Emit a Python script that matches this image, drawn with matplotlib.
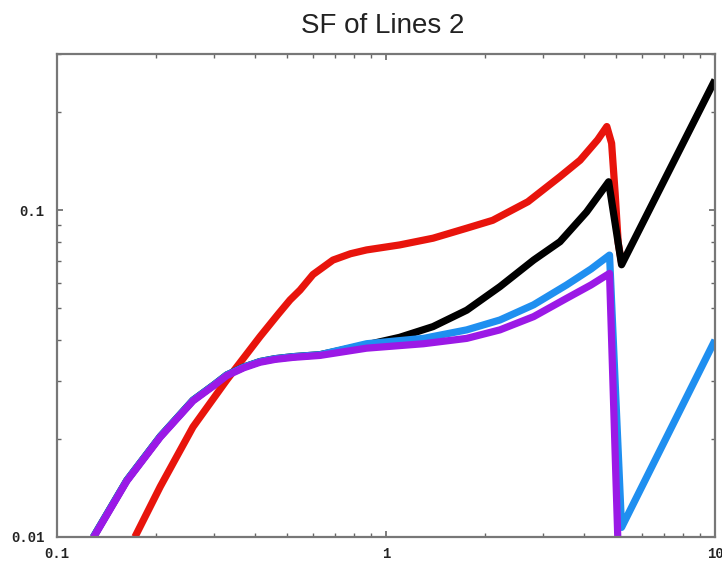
import matplotlib
matplotlib.use("Agg")
import matplotlib.pyplot as plt
from matplotlib.ticker import LogLocator, FixedLocator, NullFormatter

# ---- data ----
red_x = [0.1725, 0.206, 0.259, 0.328, 0.414, 0.47, 0.511, 0.548, 0.6, 0.69, 0.78, 0.873, 1.10, 1.39,
         1.76, 2.11, 2.7, 3.38, 3.89, 4.4, 4.69, 4.85, 4.97, 5.08, 5.2]
red_y = [0.01, 0.01426, 0.0217, 0.0302, 0.041, 0.048, 0.0531, 0.0569, 0.0635, 0.0703, 0.0735, 0.0755,
         0.0782, 0.082, 0.088, 0.093, 0.106, 0.1265, 0.142, 0.164, 0.18, 0.16, 0.113, 0.0793, 0.069]

left_x = [0.129, 0.163, 0.206, 0.259, 0.3, 0.328, 0.37, 0.414, 0.46, 0.521, 0.63]
left_y = [0.01, 0.0149, 0.0203, 0.0262, 0.0292, 0.0313, 0.0331, 0.0344, 0.0351, 0.0356, 0.0361]

black_x = left_x + [0.873, 1.1, 1.39, 1.76, 2.22, 2.81, 3.38, 4.07, 4.75, 5.2, 10.0]
black_y = left_y + [0.0387, 0.0408, 0.044, 0.0494, 0.0583, 0.0703, 0.0800, 0.0986, 0.122, 0.068, 0.25]

blue_x = left_x + [0.873, 1.3, 1.76, 2.22, 2.81, 3.54, 4.2, 4.78, 5.2, 10.0]
blue_y = left_y + [0.039, 0.0405, 0.043, 0.0461, 0.0513, 0.059, 0.066, 0.0728, 0.0107, 0.04]

purple_x = left_x + [0.873, 1.3, 1.76, 2.22, 2.81, 3.54, 4.2, 4.78, 5.08]
purple_y = [v * 0.995 for v in left_y] + [0.0378, 0.039, 0.0405, 0.043, 0.0472, 0.0537, 0.059, 0.064, 0.009]

x_ticks = [0.1, 1, 10]
x_tick_labels = ["0.1", "1", "10"]
y_ticks = [0.01, 0.1]
y_tick_labels = ["0.01", "0.1"]

title = "SF of Lines 2"

# ---- figure ----
fig = plt.figure(figsize=(7.22, 5.61), dpi=100)
ax = fig.add_axes([57 / 722, 1 - 537 / 561, (715 - 57) / 722, (537 - 54) / 561])

lw = 5.2
kw = dict(lw=lw, solid_capstyle="butt", solid_joinstyle="round")
ax.plot(red_x, red_y, color="#e8140c", **kw)
ax.plot(black_x, black_y, color="#000000", **kw)
ax.plot(blue_x, blue_y, color="#1f8ff0", **kw)
ax.plot(purple_x, purple_y, color="#9b19e6", **kw)

ax.set_xscale("log")
ax.set_yscale("log")
ax.set_xlim(0.1, 10)
ax.set_ylim(0.01, 0.3)

ax.xaxis.set_major_locator(FixedLocator(x_ticks))
ax.yaxis.set_major_locator(FixedLocator(y_ticks))
ax.set_xticklabels(x_tick_labels)
ax.set_yticklabels(y_tick_labels)
ax.xaxis.set_minor_locator(LogLocator(base=10, subs=range(2, 10)))
ax.yaxis.set_minor_locator(LogLocator(base=10, subs=range(2, 10)))
ax.xaxis.set_minor_formatter(NullFormatter())
ax.yaxis.set_minor_formatter(NullFormatter())

ax.tick_params(which="both", direction="in", top=True, right=True, color="#666666")
ax.tick_params(which="major", length=4, width=1.2)
ax.tick_params(which="minor", length=3, width=1.0)
ax.tick_params(axis="y", which="major", pad=9)
ax.tick_params(axis="x", which="major", pad=7)
for lab in ax.get_xticklabels() + ax.get_yticklabels():
    lab.set_fontfamily("Liberation Mono")
    lab.set_fontweight("bold")
    lab.set_fontsize(10)
    lab.set_color("#222222")

for s in ax.spines.values():
    s.set_color("#777777")
    s.set_linewidth(1.6)

fig.text(383 / 722, 1 - 26 / 561, title, ha="center", va="center",
         fontsize=20, family="Liberation Sans", color="#222222")

fig.savefig("out.png", dpi=100)
